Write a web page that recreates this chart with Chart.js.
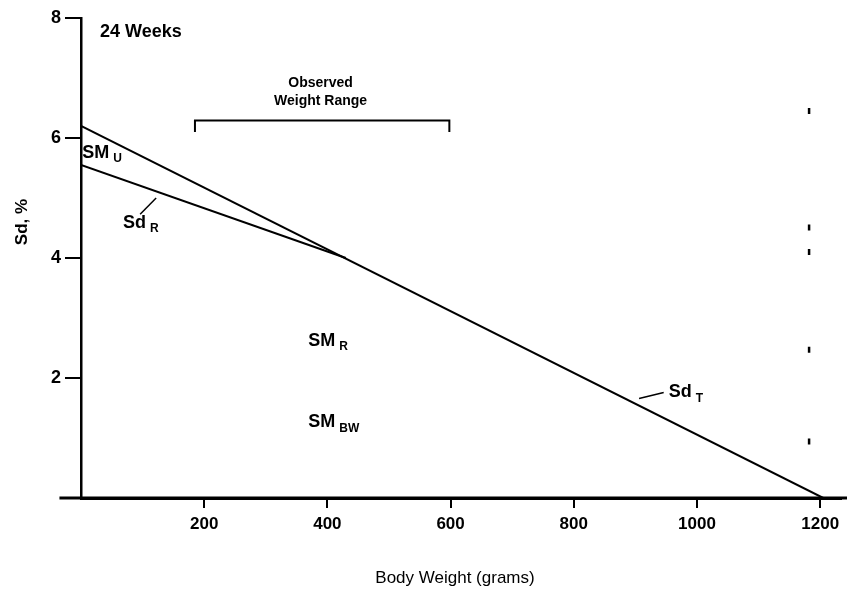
<!DOCTYPE html>
<html><head><meta charset="utf-8">
<script src="https://cdn.jsdelivr.net/npm/chart.js@4/dist/chart.umd.min.js"></script>
<style>html,body{margin:0;padding:0;background:#fff}</style>
</head><body>
<canvas id="c" width="847" height="591"></canvas>
<script>
// ---- data ----
const xTicks = [200, 400, 600, 800, 1000, 1200];
const yTicks = [2, 4, 6, 8];
const sdTx = [0, 1205];      const sdTy = [6.2, 0];
const sdRx = [0, 430];       const sdRy = [5.55, 4.0];
const rangeX = [185, 185, 598, 598]; const rangeY = [6.1, 6.29, 6.29, 6.1];
const markX = [1182, 1182, 1182, 1182, 1182]; const markY = [6.45, 4.51, 4.10, 2.47, 0.94];
const leaderRx = [96, 122];  const leaderRy = [4.73, 5.0];
const leaderTx = [906, 946]; const leaderTy = [1.66, 1.76];
const labelText = ['SM', 'Sd', 'SM', 'SM', 'Sd'];
const labelSub  = ['U', 'R', 'R', 'BW', 'T'];
const labelX = [2, 68, 369, 369, 954];
const labelY = [5.75, 4.59, 2.62, 1.26, 1.76];
const noteText = ['24 Weeks', 'Observed', 'Weight Range'];
const noteX = [31, 389, 389];
const noteY = [7.77, 6.92, 6.61];
const xTitle = 'Body Weight (grams)';
const yTitle = 'Sd, %';

const pts = (xs, ys) => xs.map((x, i) => ({x, y: ys[i]}));
const FONT = '"Liberation Sans", Arial, Helvetica, sans-serif';

const lineDs = (data, w) => ({type: 'line', data, borderColor: '#000', borderWidth: w,
  pointRadius: 0, fill: false, tension: 0, showLine: true});

const textPlugin = {
  id: 'texts',
  afterDraw(chart) {
    const {ctx, scales: {x, y}} = chart;
    ctx.save();
    ctx.fillStyle = '#000';
    ctx.textBaseline = 'middle';
    labelText.forEach((t, i) => {
      const px = x.getPixelForValue(labelX[i]), py = y.getPixelForValue(labelY[i]);
      ctx.font = 'bold 18px ' + FONT;
      ctx.textAlign = 'left';
      ctx.fillText(t, px, py);
      const w = ctx.measureText(t).width;
      ctx.font = 'bold 12px ' + FONT;
      ctx.fillText(labelSub[i], px + w + 4, py + 6);
    });
    noteText.forEach((t, i) => {
      const px = x.getPixelForValue(noteX[i]), py = y.getPixelForValue(noteY[i]);
      if (i === 0) { ctx.font = 'bold 18px ' + FONT; ctx.textAlign = 'left'; }
      else { ctx.font = 'bold 14px ' + FONT; ctx.textAlign = 'center'; }
      ctx.fillText(t, px, py);
    });
    // x axis line extended past both ends of the plot area
    ctx.strokeStyle = '#000';
    ctx.lineWidth = 3;
    const y0 = y.getPixelForValue(0);
    ctx.beginPath();
    ctx.moveTo(x.getPixelForValue(-35), y0);
    ctx.lineTo(chart.width, y0);
    ctx.stroke();
    // axis titles
    ctx.font = '17px ' + FONT;
    ctx.textAlign = 'center';
    ctx.fillText(xTitle, 455, 578);
    ctx.translate(22, 222);
    ctx.rotate(-Math.PI / 2);
    ctx.font = 'bold 17px ' + FONT;
    ctx.fillText(yTitle, 0, 0);
    ctx.restore();
  }
};

new Chart(document.getElementById('c'), {
  type: 'scatter',
  data: {
    datasets: [
      lineDs(pts(sdTx, sdTy), 2),
      lineDs(pts(sdRx, sdRy), 2),
      lineDs(pts(rangeX, rangeY), 2),
      lineDs(pts(leaderRx, leaderRy), 1.5),
      lineDs(pts(leaderTx, leaderTy), 1.5),
      {type: 'scatter', data: pts(markX, markY), pointStyle: 'line', rotation: 90,
       pointRadius: 3, borderColor: '#000', borderWidth: 2.5, backgroundColor: '#000'}
    ]
  },
  options: {
    responsive: false, animation: false,
    layout: {padding: {top: 18, right: 0, left: 0, bottom: 0}},
    plugins: {legend: {display: false}, tooltip: {enabled: false}},
    scales: {
      x: {
        type: 'linear', min: 0, max: 1233,
        afterBuildTicks: s => { s.ticks = xTicks.map(v => ({value: v})); },
        afterFit: s => { s.height = 93; },
        grid: {display: true, drawOnChartArea: false, drawTicks: true, tickLength: 10,
               color: '#000', lineWidth: 2},
        border: {display: true, color: '#000', width: 3},
        ticks: {color: '#000', padding: 6, font: {family: FONT, size: 17, weight: 'bold'},
                maxRotation: 0, callback: v => String(v)}
      },
      y: {
        type: 'linear', min: 0, max: 8,
        afterBuildTicks: s => { s.ticks = yTicks.map(v => ({value: v})); },
        afterFit: s => { s.width = 81; },
        grid: {display: true, drawOnChartArea: false, drawTicks: true, tickLength: 16,
               color: '#000', lineWidth: 2},
        border: {display: true, color: '#000', width: 2.5},
        ticks: {color: '#000', padding: 4, font: {family: FONT, size: 18, weight: 'bold'},
                callback: v => String(v)}
      }
    }
  },
  plugins: [textPlugin]
});
</script>
</body></html>
